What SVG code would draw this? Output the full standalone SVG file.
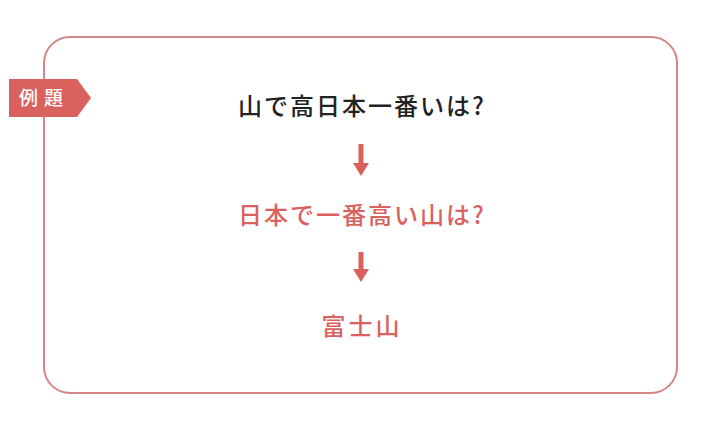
<svg xmlns="http://www.w3.org/2000/svg" width="710" height="422" viewBox="0 0 710 422">
<defs>
<style>
.jp{font-family:"Noto Sans CJK JP","Noto Sans CJK SC",sans-serif;font-weight:500;text-anchor:middle}
.pink{fill:#d9625f}
</style>
<marker id="ah" viewBox="0 0 13 16" refX="1" refY="8" markerWidth="13" markerHeight="16" markerUnits="userSpaceOnUse" orient="auto"><path d="M0,0 L13,8 L0,16 Z" fill="#d9625f"/></marker>
</defs>
<rect width="710" height="422" fill="#ffffff"/>
<g id="frame">
<rect x="44" y="37" width="633" height="356" rx="26" ry="26" fill="none" stroke="#d48585" stroke-width="2"/>
</g>
<g id="label">
<path d="M9,79 L77,79 L91,98 L77,117 L9,117 Z" fill="#d9625f"/>
<text x="44" y="105" class="jp" font-size="19" font-weight="400" fill="#ffffff" letter-spacing="6">例題</text>
</g>
<g id="q1">
<text x="362" y="115" class="jp" font-size="24" fill="#222222" letter-spacing="2">山で高日本一番いは?</text>
</g>
<g id="q2">
<text x="362" y="224" class="jp pink" font-size="24" letter-spacing="2">日本で一番高い山は?</text>
</g>
<g id="answer">
<text x="362" y="335" class="jp pink" font-size="24" letter-spacing="3">富士山</text>
</g>
<g id="connectors" stroke="#d9625f" stroke-width="5" fill="none">
<line x1="361" y1="144" x2="361" y2="164" marker-end="url(#ah)"/>
<line x1="361" y1="252" x2="361" y2="270" marker-end="url(#ah)"/>
</g>
</svg>
